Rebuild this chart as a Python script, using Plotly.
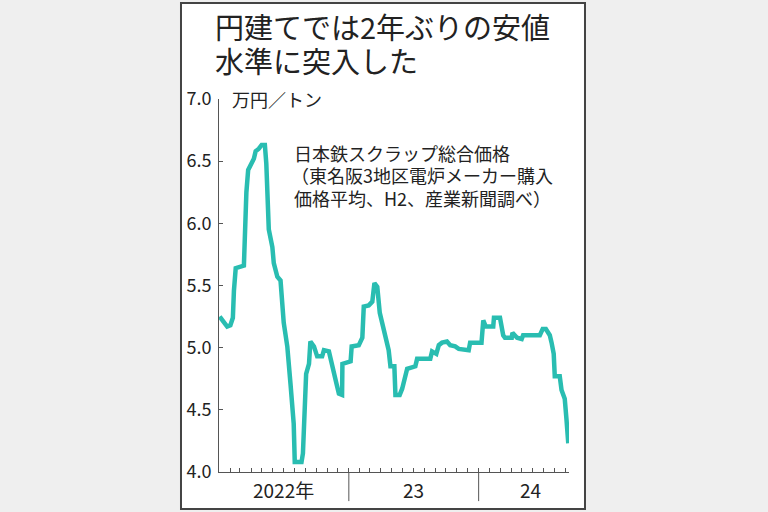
import plotly.graph_objects as go

FONT = 'Noto Sans CJK JP, Noto Sans, sans-serif'
LINE_COLOR = '#29bdb1'
TEXT_COLOR = '#222222'

dates = [
    '2022-01-03', '2022-01-14', '2022-01-24', '2022-02-02', '2022-02-09', '2022-02-12',
    '2022-02-17', '2022-03-12', '2022-03-15', '2022-03-19', '2022-03-24', '2022-04-03',
    '2022-04-09', '2022-04-14', '2022-04-23', '2022-05-01', '2022-05-10', '2022-05-14',
    '2022-05-21', '2022-05-31', '2022-06-04', '2022-06-14', '2022-06-23', '2022-07-02',
    '2022-07-12', '2022-07-21', '2022-07-30', '2022-08-02', '2022-08-21', '2022-08-25',
    '2022-08-30', '2022-09-03', '2022-09-11', '2022-09-15', '2022-09-25', '2022-10-04',
    '2022-10-18', '2022-10-23', '2022-11-06', '2022-11-15', '2022-11-20', '2022-11-29',
    '2022-12-04', '2022-12-13', '2022-12-14', '2023-01-06', '2023-01-09', '2023-01-29',
    '2023-02-08', '2023-02-12', '2023-02-26', '2023-03-08', '2023-03-14', '2023-03-22',
    '2023-03-29', '2023-04-08', '2023-04-14', '2023-04-23', '2023-04-28', '2023-05-09',
    '2023-05-12', '2023-05-24', '2023-05-31', '2023-06-09', '2023-06-14', '2023-07-07',
    '2023-07-12', '2023-08-18', '2023-08-23', '2023-09-04', '2023-09-11', '2023-09-20',
    '2023-10-04', '2023-10-13', '2023-10-27', '2023-11-06', '2023-12-04', '2023-12-08',
    '2024-01-09', '2024-01-14', '2024-01-21', '2024-02-11', '2024-02-13', '2024-03-01',
    '2024-03-06', '2024-03-10', '2024-03-15', '2024-04-03', '2024-04-05', '2024-04-18',
    '2024-05-01', '2024-05-05', '2024-06-21', '2024-06-29', '2024-07-08', '2024-07-19',
    '2024-07-24', '2024-07-30', '2024-08-02', '2024-08-16', '2024-08-21', '2024-08-30',
    '2024-09-04', '2024-09-09',
]
prices = [
    5.25, 5.20, 5.17, 5.18, 5.24, 5.46,
    5.64, 5.66, 5.97, 6.25, 6.43, 6.48,
    6.52, 6.58, 6.60, 6.63, 6.63, 6.48,
    5.95, 5.81, 5.68, 5.57, 5.54, 5.20,
    5.01, 4.71, 4.39, 4.08, 4.08, 4.15,
    4.44, 4.79, 4.87, 5.05, 5.01, 4.93,
    4.93, 4.98, 4.97, 4.85, 4.77, 4.69,
    4.63, 4.62, 4.87, 4.89, 5.01, 5.02,
    5.08, 5.33, 5.34, 5.37, 5.52, 5.49,
    5.28, 5.17, 5.09, 4.98, 4.85, 4.85,
    4.62, 4.62, 4.67, 4.77, 4.83, 4.85,
    4.91, 4.91, 4.97, 4.95, 5.02, 5.04,
    5.05, 5.02, 5.01, 4.99, 4.98, 5.04,
    5.04, 5.22, 5.17, 5.17, 5.24, 5.24,
    5.17, 5.10, 5.08, 5.08, 5.12, 5.08,
    5.07, 5.10, 5.10, 5.15, 5.15, 5.10,
    5.04, 4.95, 4.77, 4.77, 4.66, 4.59,
    4.42, 4.23,
]

y_ticks = [4.0, 4.5, 5.0, 5.5, 6.0, 6.5, 7.0]
year_bounds = ['2023-01-01', '2024-01-01']
year_labels = ['2022年', '23', '24']
year_label_pos = ['2022-07-02', '2023-07-02', '2024-05-27']

title_lines = ['円建てでは2年ぶりの安値', '水準に突入した']
note_lines = ['日本鉄スクラップ総合価格',
              '（東名阪3地区電炉メーカー購入',
              '価格平均、H2、産業新聞調べ）']

fig = go.Figure()

fig.add_trace(go.Scatter(
    x=dates, y=prices, mode='lines',
    line=dict(color=LINE_COLOR, width=4.5),
    hoverinfo='skip', showlegend=False
))

# white card with dark frame
fig.add_shape(type='rect', xref='paper', yref='paper',
              x0=-0.1086, x1=1.0457, y0=-0.0992, y1=1.2574,
              fillcolor='white', line=dict(color='#444444', width=2), layer='below')

# year separators below the axis
for d in year_bounds:
    fig.add_shape(type='line', xref='x', yref='paper', x0=d, x1=d, y0=0, y1=-0.078,
                  line=dict(color='#555555', width=1))

for lab, pos in zip(year_labels, year_label_pos):
    fig.add_annotation(x=pos, y=-0.048, xref='x', yref='paper', text=lab,
                       showarrow=False, yanchor='middle',
                       font=dict(size=19, color=TEXT_COLOR, family=FONT))

for i, t in enumerate(title_lines):
    fig.add_annotation(x=-0.017, y=1.197 - i * 0.092, xref='paper', yref='paper', text=t,
                       showarrow=False, xanchor='left', yanchor='middle',
                       font=dict(size=29, color=TEXT_COLOR, family=FONT))

fig.add_annotation(x=0.031, y=1.0, xref='paper', yref='paper', text='万円／トン',
                   showarrow=False, xanchor='left', yanchor='middle',
                   font=dict(size=18, color=TEXT_COLOR, family=FONT))

for i, t in enumerate(note_lines):
    fig.add_annotation(x=0.209 if i != 1 else 0.2, y=0.855 - i * 0.06,
                       xref='paper', yref='paper', text=t,
                       showarrow=False, xanchor='left', yanchor='middle',
                       font=dict(size=18, color=TEXT_COLOR, family=FONT))

fig.update_layout(
    width=768, height=512,
    margin=dict(l=219, r=199, t=99, b=40),
    paper_bgcolor='#efefef',
    plot_bgcolor='rgba(0,0,0,0)',
    font=dict(family=FONT, color=TEXT_COLOR),
    showlegend=False,
)

fig.update_xaxes(
    type='date', range=['2022-01-01', '2024-09-11'],
    showgrid=False, zeroline=False,
    showline=True, linecolor='#555555', linewidth=1,
    ticks='inside', ticklen=4, tickcolor='#555555',
    tick0='2022-01-01', dtick='M1', showticklabels=False,
)

fig.update_yaxes(
    range=[4.0, 7.0], tickvals=y_ticks, ticktext=[f'{v:.1f}' for v in y_ticks],
    showgrid=False, zeroline=False,
    showline=True, linecolor='#555555', linewidth=1,
    ticks='inside', ticklen=4, tickcolor='#555555',
    tickfont=dict(size=18, color=TEXT_COLOR, family=FONT),
    ticklabelstandoff=3,
)

# drop the default 8px page margin so the figure sits at the window corner
fig.write_html('out.html', config={'displayModeBar': False},
               post_script="document.body.style.margin='0';")
